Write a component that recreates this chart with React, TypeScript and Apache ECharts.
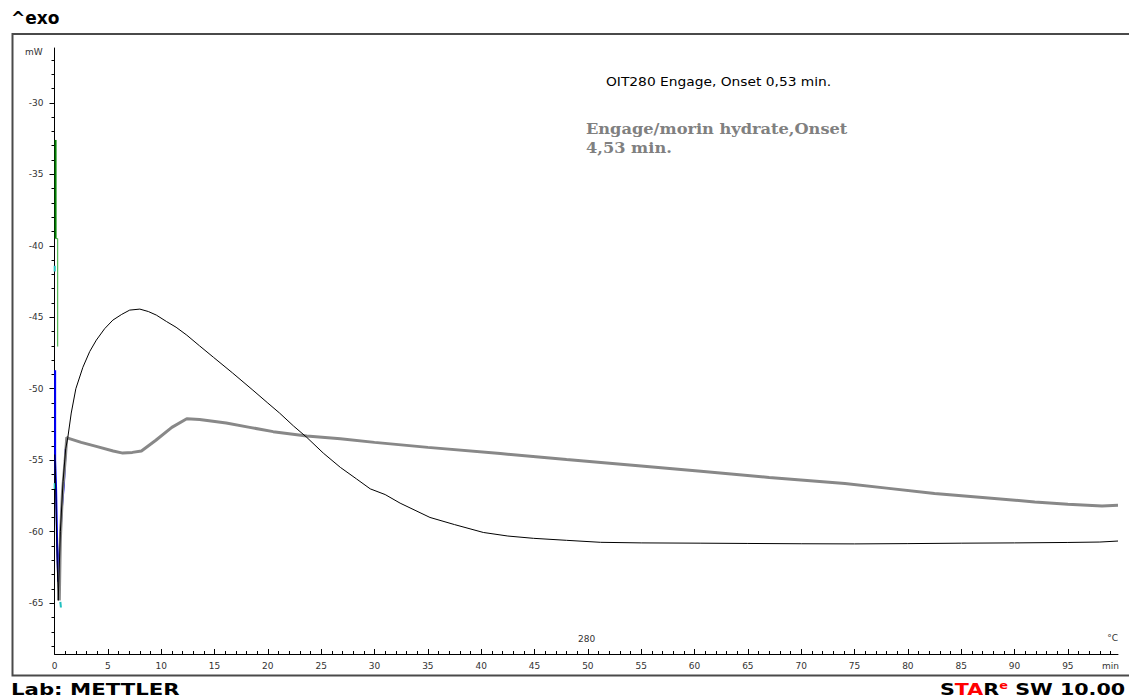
import React, { useEffect, useRef } from "react";
import * as echarts from "echarts";

// ---------- tick values ----------
const xMajorTicks = [0, 5, 10, 15, 20, 25, 30, 35, 40, 45, 50, 55, 60, 65, 70, 75, 80, 85, 90, 95];
const xMinorTicks = [
  1, 2, 3, 4, 6, 7, 8, 9, 11, 12, 13, 14, 16, 17, 18, 19, 21, 22, 23, 24, 26, 27, 28, 29,
  31, 32, 33, 34, 36, 37, 38, 39, 41, 42, 43, 44, 46, 47, 48, 49, 51, 52, 53, 54, 56, 57, 58, 59,
  61, 62, 63, 64, 66, 67, 68, 69, 71, 72, 73, 74, 76, 77, 78, 79, 81, 82, 83, 84, 86, 87, 88, 89,
  91, 92, 93, 94, 96, 97, 98, 99,
];
const yMajorTicks = [-65, -60, -55, -50, -45, -40, -35, -30];
const yMinorTicks = [
  -68, -67, -66, -64, -63, -62, -61, -59, -58, -57, -56, -54, -53, -52, -51, -49, -48, -47, -46,
  -44, -43, -42, -41, -39, -38, -37, -36, -34, -33, -32, -31, -29, -28, -27,
];

// ---------- curves (time min, heat flow mW) ----------
const engageCurve: [number, number][] = [
  [0.02, -54.6], [0.08, -55.6], [0.25, -62.0], [0.35, -64.8], [0.55, -60.0], [0.8, -56.5],
  [1.05, -54.2], [1.25, -53.4], [1.57, -51.7], [2.0, -50.0], [2.66, -48.5], [3.3, -47.4],
  [3.92, -46.6], [4.7, -45.8], [5.47, -45.2], [6.3, -44.8], [7.05, -44.5], [8.0, -44.43],
  [8.8, -44.6], [9.55, -44.85], [10.5, -45.3], [11.4, -45.7], [12.4, -46.25], [13.6, -47.0],
  [14.9, -47.8], [16.7, -48.9], [18.6, -50.1], [20.0, -51.0], [21.1, -51.7], [22.4, -52.6],
  [23.65, -53.4], [25.2, -54.5], [26.8, -55.5], [28.3, -56.3], [29.6, -57.0], [31.0, -57.4],
  [32.4, -58.0], [33.8, -58.5], [35.2, -59.0], [37.5, -59.5], [40.2, -60.05], [42.5, -60.3],
  [44.9, -60.46], [48.0, -60.6], [51.2, -60.74], [55.0, -60.78], [60.6, -60.8], [65.0, -60.82],
  [70.0, -60.84], [75.0, -60.85], [80.0, -60.83], [85.0, -60.8], [90.0, -60.78], [95.0, -60.75],
  [98.0, -60.72], [99.7, -60.65],
];
const morinCurve: [number, number][] = [
  [0.45, -64.8], [0.55, -60.5], [0.75, -57.2], [1.0, -55.0], [1.15, -53.4], [1.25, -53.45],
  [2.5, -53.75], [4.0, -54.05], [5.5, -54.35], [6.4, -54.5], [7.3, -54.45], [8.15, -54.35],
  [9.5, -53.6], [11.0, -52.7], [12.4, -52.1], [13.6, -52.15], [16.1, -52.4], [18.3, -52.7],
  [20.5, -53.0], [23.65, -53.3], [26.8, -53.5], [30.0, -53.75], [35.0, -54.1], [41.8, -54.53],
  [48.0, -54.95], [55.0, -55.4], [60.6, -55.77], [67.0, -56.2], [74.1, -56.63], [78.0, -56.95],
  [82.5, -57.33], [87.0, -57.6], [91.9, -57.92], [95.0, -58.08], [98.2, -58.2], [99.7, -58.15],
];
const blueTrace: [number, number][] = [
  [0.06, -48.7], [0.06, -55.0], [0.15, -57.0], [0.25, -61.0], [0.35, -63.5], [0.5, -61.0],
  [0.67, -58.5], [0.88, -56.7], [1.05, -54.2],
];
const greenThick: [number, number][] = [[0.1, -32.6], [0.1, -39.5]];
const greenThin: [number, number][] = [[0.1, -39.5], [0.3, -39.5], [0.3, -47.05]];
const cyanA: [number, number][] = [[0.02, -41.4], [0.02, -41.8]];
const cyanB: [number, number][] = [[0.02, -56.6], [0.02, -57.0]];
const cyanC: [number, number][] = [[0.55, -64.9], [0.6, -65.3]];

const line = (data: [number, number][], color: string, width: number, z: number) => ({
  type: "line",
  data,
  symbol: "none",
  showSymbol: false,
  smooth: false,
  silent: true,
  z,
  lineStyle: { color, width },
});

export default function App() {
  const ref = useRef<HTMLDivElement>(null);

  useEffect(() => {
    if (!ref.current) return;
    const chart = echarts.init(ref.current, undefined, { renderer: "svg" });
    const tickFont = { color: "#333", fontSize: 9, fontFamily: "DejaVu Sans" };

    const option: any = {
      animation: false,
      backgroundColor: "#ffffff",
      grid: { left: 54.5, right: 11, top: 48, bottom: 46 },
      xAxis: [
        {
          type: "value",
          min: 0,
          max: 99.7,
          position: "bottom",
          axisLine: { show: true, lineStyle: { color: "#000", width: 1 } },
          axisTick: { show: true, inside: true, length: 5, customValues: xMajorTicks, lineStyle: { color: "#000" } },
          axisLabel: { show: true, customValues: xMajorTicks, margin: 7, ...tickFont },
          splitLine: { show: false },
        },
        {
          type: "value",
          min: 0,
          max: 99.7,
          position: "bottom",
          axisLine: { show: false },
          axisTick: { show: true, inside: true, length: 3, customValues: xMinorTicks, lineStyle: { color: "#000" } },
          axisLabel: { show: false },
          splitLine: { show: false },
        },
      ],
      yAxis: [
        {
          type: "value",
          min: -68.55,
          max: -26.17,
          position: "left",
          axisLine: { show: true, lineStyle: { color: "#000", width: 1 } },
          axisTick: { show: true, inside: false, length: 5, customValues: yMajorTicks, lineStyle: { color: "#000" } },
          axisLabel: { show: true, customValues: yMajorTicks, margin: 11, ...tickFont },
          splitLine: { show: false },
        },
        {
          type: "value",
          min: -68.55,
          max: -26.17,
          position: "left",
          axisLine: { show: false },
          axisTick: { show: true, inside: false, length: 3, customValues: yMinorTicks, lineStyle: { color: "#000" } },
          axisLabel: { show: false },
          splitLine: { show: false },
        },
      ],
      series: [
        line(blueTrace, "#0000ff", 2, 2),
        line(greenThick, "#008000", 2, 2),
        line(greenThin, "#33aa33", 1, 2),
        line(cyanA, "#20c0c0", 2, 2),
        line(cyanB, "#20c0c0", 2, 2),
        line(cyanC, "#20c0c0", 2, 2),
        line(morinCurve, "#888888", 3, 3),
        line(engageCurve, "#000000", 1, 4),
      ],
      graphic: [
        {
          type: "rect",
          shape: { x: 12.5, y: 34, width: 1130, height: 641.5 },
          style: { fill: "none", stroke: "#4a4a4a", lineWidth: 2 },
          silent: true,
        },
        {
          type: "text",
          left: 11,
          top: 9,
          style: { text: "^exo", fontFamily: "DejaVu Sans", fontWeight: "bold", fontSize: 17, fill: "#000" },
        },
        {
          type: "text",
          left: 25,
          top: 47,
          style: { text: "mW", fontFamily: "DejaVu Sans", fontSize: 9, fill: "#333" },
        },
        {
          type: "text",
          left: 578,
          top: 634,
          style: { text: "280", fontFamily: "DejaVu Sans", fontSize: 9, fill: "#333" },
        },
        {
          type: "text",
          right: 11,
          top: 633,
          style: { text: "°C", fontFamily: "DejaVu Sans", fontSize: 9, fill: "#333" },
        },
        {
          type: "text",
          right: 10,
          top: 661,
          style: { text: "min", fontFamily: "DejaVu Sans", fontSize: 9, fill: "#333" },
        },
        {
          type: "text",
          x: 606,
          y: 82,
          scaleX: 1.15,
          style: {
            text: "OIT280 Engage, Onset 0,53 min.",
            fontFamily: "DejaVu Sans",
            fontSize: 12,
            fill: "#000",
            verticalAlign: "middle",
          },
        },
        {
          type: "text",
          x: 586,
          y: 119,
          scaleX: 1.08,
          style: {
            text: "Engage/morin hydrate,Onset\n4,53 min.",
            fontFamily: "DejaVu Serif",
            fontWeight: "bold",
            fontSize: 15,
            lineHeight: 19,
            fill: "#808080",
            verticalAlign: "top",
          },
        },
        {
          type: "text",
          x: 11,
          y: 689,
          scaleX: 1.33,
          style: {
            text: "Lab: METTLER",
            fontFamily: "DejaVu Sans",
            fontWeight: "bold",
            fontSize: 16,
            lineHeight: 16,
            fill: "#000",
            verticalAlign: "middle",
          },
        },
        {
          type: "text",
          x: 940,
          y: 689,
          scaleX: 1.29,
          style: {
            text: "{b|S}{r|TA}{b|R}{s|e}{b| SW 10.00}",
            verticalAlign: "middle",
            rich: {
              b: { fontFamily: "DejaVu Sans", fontWeight: "bold", fontSize: 16, fill: "#000", lineHeight: 16 },
              r: { fontFamily: "DejaVu Sans", fontWeight: "bold", fontSize: 16, fill: "#ff0000", lineHeight: 16 },
              s: { fontFamily: "DejaVu Sans", fontWeight: "bold", fontSize: 10, fill: "#ff0000", verticalAlign: "top", lineHeight: 16 },
            },
          },
        },
      ],
    };

    chart.setOption(option);
    return () => chart.dispose();
  }, []);

  return (
    <div
      ref={ref}
      style={{ position: "absolute", left: 0, top: 0, width: 1129, height: 700, background: "#fff" }}
    />
  );
}
